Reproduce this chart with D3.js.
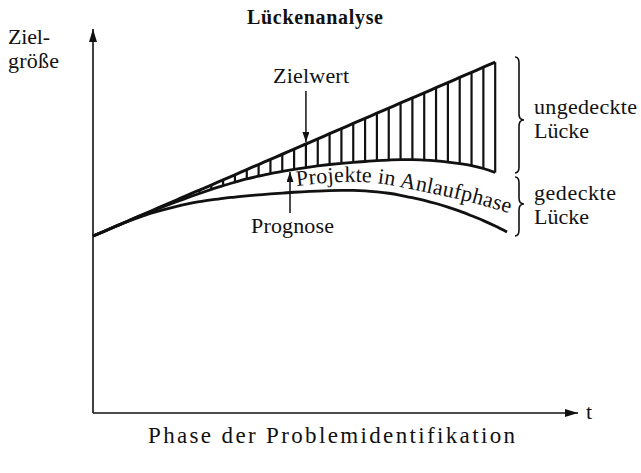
<!DOCTYPE html>
<html><head><meta charset="utf-8">
<script src="https://cdn.jsdelivr.net/npm/d3@7"></script>
<style>body{margin:0;background:#fff}svg{display:block}text{font-family:"Liberation Serif","Times New Roman",serif;fill:#111}</style>
</head><body><div id="chart"></div>
<script>
// periods (time steps) and series values (arbitrary "Zielgröße" units)
const periods = d3.range(0, 36);
const zielwert = [88,90.5,93.1,95.6,98.2,100.7,103.3,105.8,108.4,110.9,113.4,116,118.5,121.1,123.6,126.2,128.7,131.3,133.8,136.3,138.9,141.4,144,146.5,149.1,151.6,154.2,156.7,159.2,161.8,164.3,166.9,169.4,172,174.5];
const projekte = [88,90.5,93.1,95.6,98.1,100.5,102.8,105,107.1,109.2,111.2,113.1,114.8,116.4,117.8,119.1,120.2,121.2,122.1,122.9,123.6,124.2,124.7,125.1,125.5,125.8,126,126,125.8,125.4,124.8,124,123,121.6,119.6];
const prognose = [88,90.5,93,95.4,97.5,99.5,101.2,102.7,104,105.1,106,106.8,107.4,108,108.5,109,109.4,109.8,110.1,110.4,110.6,110.7,110.7,110.5,110,109.3,108.3,107.1,105.8,104.2,102.4,100.4,98.1,95.7,93,90];
const title = "Lückenanalyse";
const xLabel = "Phase der Problemidentifikation";
const yLabel = ["Ziel-", "größe"];
const xAxisLabel = "t";

const W = 641, H = 473;
const svg = d3.select("#chart").append("svg").attr("width", W).attr("height", H);
const x = d3.scaleLinear().domain([0, 41]).range([93, 578]);
const y = d3.scaleLinear().domain([0, 191]).range([413, 29]);

const defs = svg.append("defs");
defs.append("marker").attr("id","arr").attr("viewBox","0 0 13 8").attr("refX",13).attr("refY",4)
  .attr("markerWidth",13).attr("markerHeight",8).attr("markerUnits","userSpaceOnUse").attr("orient","auto")
  .append("path").attr("d","M0,0 L13,4 L0,8 Z").attr("fill","#111");
defs.append("marker").attr("id","arrS").attr("viewBox","0 0 10 7").attr("refX",10).attr("refY",3.5)
  .attr("markerWidth",10).attr("markerHeight",7).attr("markerUnits","userSpaceOnUse").attr("orient","auto")
  .append("path").attr("d","M0,0 L10,3.5 L0,7 Z").attr("fill","#111");

// axes
svg.append("line").attr("x1", x(0)).attr("y1", y(0)).attr("x2", x(0)).attr("y2", y(191))
  .attr("stroke","#111").attr("stroke-width",1.6).attr("marker-end","url(#arr)");
svg.append("line").attr("x1", x(0)).attr("y1", y(0)).attr("x2", x(41)).attr("y2", y(0))
  .attr("stroke","#111").attr("stroke-width",1.6).attr("marker-end","url(#arr)");

// hatching between Zielwert and Projekte
const hatchK = periods.filter(k => k < zielwert.length && zielwert[k] - projekte[k] > 0.8);
svg.append("g").selectAll("line").data(hatchK).join("line")
  .attr("x1", k => x(k)).attr("x2", k => x(k))
  .attr("y1", k => y(projekte[k])).attr("y2", k => y(zielwert[k]))
  .attr("stroke","#111").attr("stroke-width",2.2);

const line = d3.line().x((d,i) => x(i)).y(d => y(d)).curve(d3.curveMonotoneX);
[[zielwert,3],[projekte,2.8],[prognose,2.8]].forEach(([s,w]) => {
  svg.append("path").attr("d", line(s)).attr("fill","none").attr("stroke","#111")
    .attr("stroke-width", w).attr("stroke-linejoin","round");
});

// text labels
svg.append("text").attr("x",247).attr("y",24).attr("font-size",20).attr("font-weight","bold")
  .attr("textLength",136).attr("lengthAdjust","spacing").text(title);
svg.append("text").attr("x",8).attr("y",44).attr("font-size",22).attr("textLength",42).attr("lengthAdjust","spacing").text(yLabel[0]);
svg.append("text").attr("x",8).attr("y",68).attr("font-size",22).attr("textLength",51).attr("lengthAdjust","spacing").text(yLabel[1]);
svg.append("text").attr("x",148).attr("y",443).attr("font-size",23).attr("textLength",367).attr("lengthAdjust","spacing").text(xLabel);
svg.append("text").attr("x",586).attr("y",419).attr("font-size",22).text(xAxisLabel);

svg.append("text").attr("x",273).attr("y",83).attr("font-size",22).attr("textLength",76).attr("lengthAdjust","spacing").text("Zielwert");
svg.append("line").attr("x1", x(18)).attr("y1",91).attr("x2", x(18)).attr("y2", y(zielwert[18]) - 2)
  .attr("stroke","#111").attr("stroke-width",1.5).attr("marker-end","url(#arrS)");
svg.append("text").attr("x",251).attr("y",233).attr("font-size",22).attr("textLength",83).attr("lengthAdjust","spacing").text("Prognose");
svg.append("line").attr("x1", 290).attr("y1",213).attr("x2", 290).attr("y2", 172)
  .attr("stroke","#111").attr("stroke-width",1.5).attr("marker-end","url(#arrS)");

// curved label along the Projekte curve
defs.append("path").attr("id","tp")
  .attr("d", d3.line().curve(d3.curveCatmullRom)([[297,186],[340,182],[375,183],[420,191],[470,202],[522,217]]));
svg.append("text").attr("font-size",22).attr("letter-spacing",0.2)
  .append("textPath").attr("href","#tp").text("Projekte in Anlaufphase");

// braces
function brace(x0, top, bot, mid) {
  const s = x0 + 4, c = x0 + 9;
  return `M${x0},${top} Q${s},${top} ${s},${top+6} L${s},${mid-6} Q${s},${mid} ${c},${mid} Q${s},${mid} ${s},${mid+6} L${s},${bot-6} Q${s},${bot} ${x0},${bot}`;
}
svg.append("path").attr("d", brace(515, 57, 173, 120)).attr("fill","none").attr("stroke","#111").attr("stroke-width",1.6);
svg.append("path").attr("d", brace(515, 177, 236, 204)).attr("fill","none").attr("stroke","#111").attr("stroke-width",1.6);
svg.append("text").attr("x",534).attr("y",114).attr("font-size",22).attr("textLength",103).attr("lengthAdjust","spacing").text("ungedeckte");
svg.append("text").attr("x",534).attr("y",138).attr("font-size",22).attr("textLength",55).attr("lengthAdjust","spacing").text("Lücke");
svg.append("text").attr("x",534).attr("y",200).attr("font-size",22).attr("textLength",82).attr("lengthAdjust","spacing").text("gedeckte");
svg.append("text").attr("x",534).attr("y",224).attr("font-size",22).attr("textLength",55).attr("lengthAdjust","spacing").text("Lücke");
</script></body></html>
